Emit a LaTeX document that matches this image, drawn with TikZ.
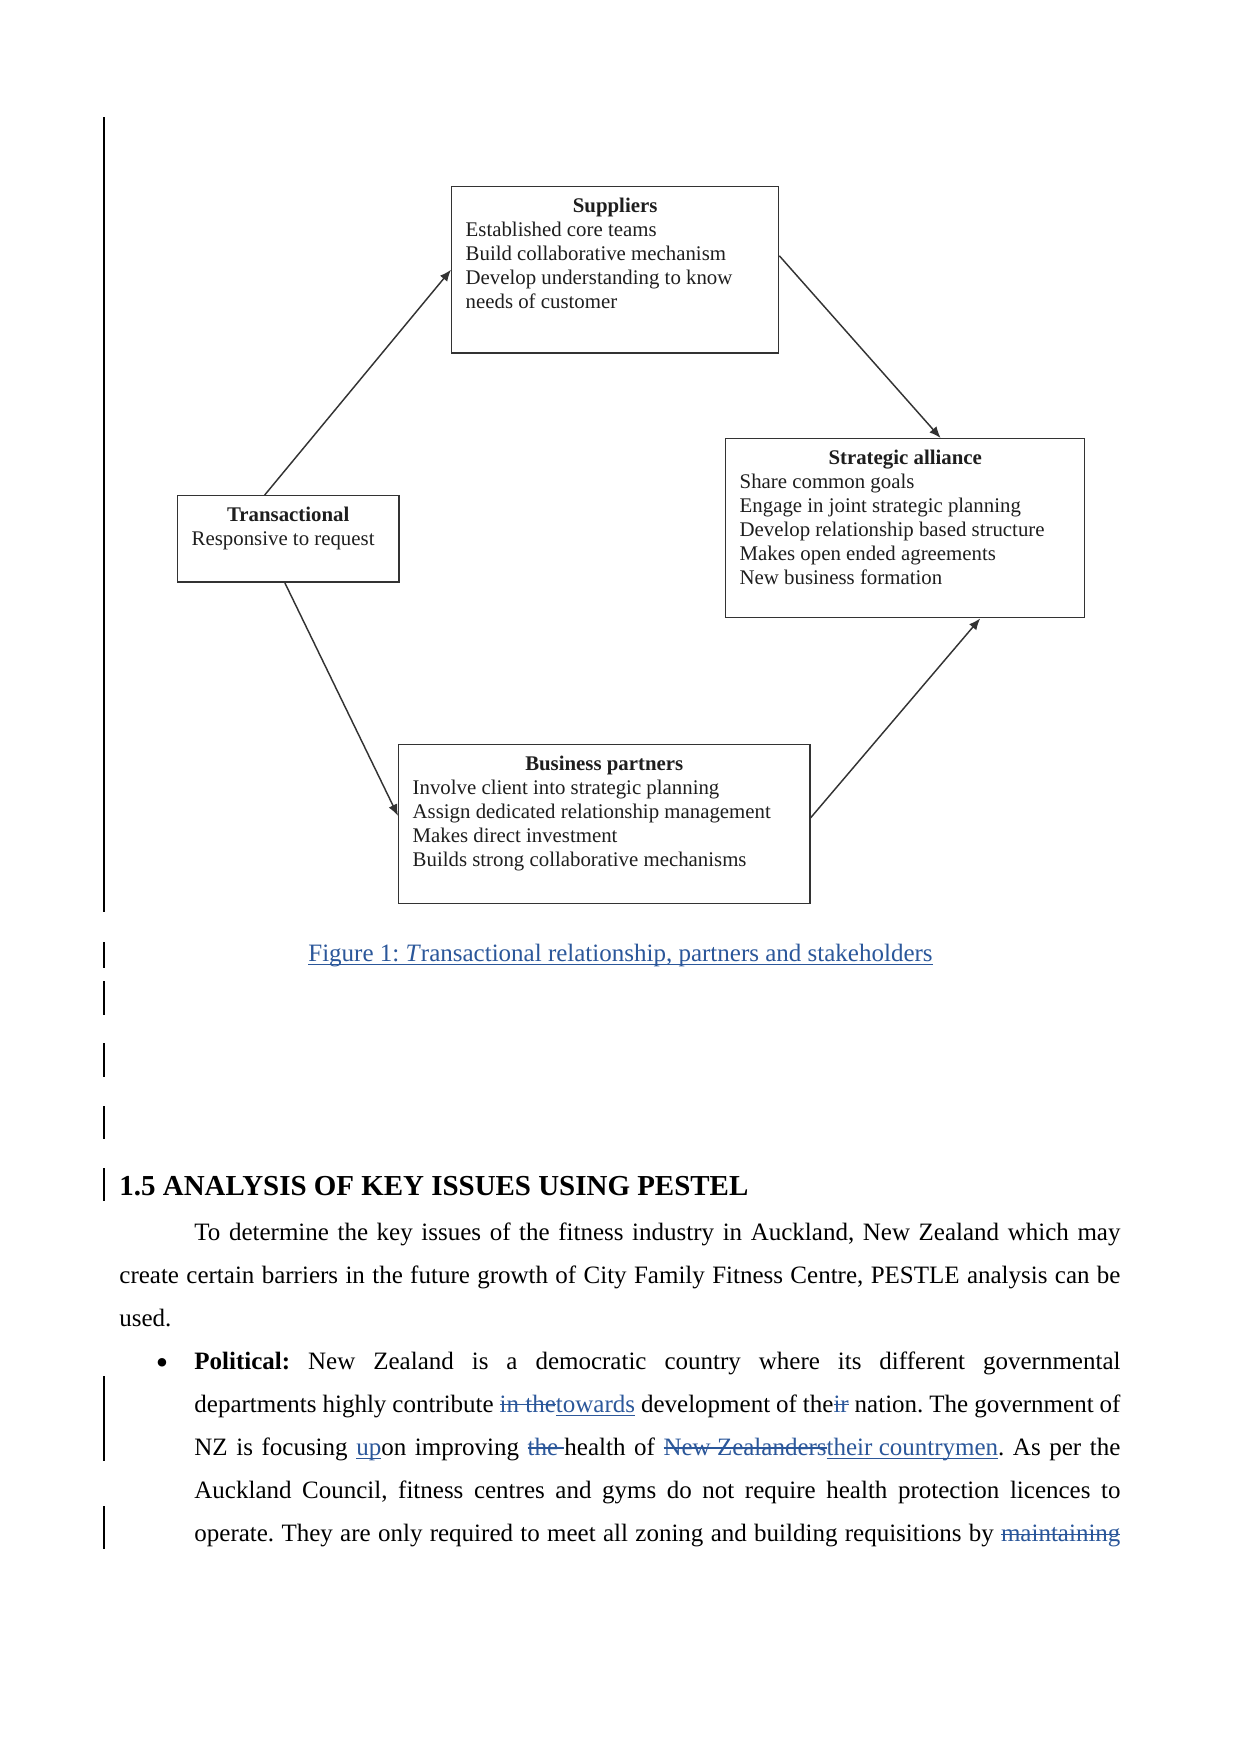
\documentclass[tikz,border=0pt]{standalone}
\usepackage{fontspec}
\setmainfont{Liberation Serif}
\usetikzlibrary{arrows.meta,calc,positioning}
\definecolor{BoxLine}{HTML}{333333}
\definecolor{BoxInk}{HTML}{1E1E1E}
\definecolor{TrackBlue}{HTML}{2B579A}
\newcommand{\deltext}[1]{{\color{TrackBlue}\setbox0\hbox{#1}\rlap{\rule[0.27em]{\wd0}{0.55pt}}\box0}}
\newcommand{\instext}[1]{{\color{TrackBlue}\setbox0\hbox{#1}\rlap{\rule[-0.16em]{\wd0}{0.55pt}}\box0}}
\frenchspacing

\begin{document}
\begin{tikzpicture}[x=0.48pt,y=-0.48pt,card/.style={draw=BoxLine,line width=0.7pt,inner xsep=6.7pt,inner ysep=4.2pt,anchor=north west,font=\fontsize{10}{11.5}\selectfont,text=BoxInk},flow/.style={-{Latex[length=5.5pt,width=4.5pt]},line width=0.7pt,draw=BoxLine},changebar/.style={line width=0.5pt,draw=black},body/.style={font=\fontsize{12}{20.7}\selectfont,inner sep=0pt,anchor=base west}]
\useasboundingbox[fill=white] (0,0) rectangle (1241,1754);

% relationship cycle
\node[card] (sup) at (451,186) {\parbox[t][71.3pt][t]{143.5pt}{\strut\hfill\textbf{Suppliers}\hfill\null\\Established core teams\\Build collaborative mechanism\\Develop understanding to know\\needs of customer}};
\node[card] (strat) at (725,438) {\parbox[t][77.5pt][t]{158.9pt}{\strut\hfill\textbf{Strategic alliance}\hfill\null\\Share common goals\\Engage in joint strategic planning\\Develop relationship based structure\\Makes open ended agreements\\New business formation}};
\node[card] (trans) at (177,495) {\parbox[t][32.9pt][t]{92.7pt}{\strut\hfill\textbf{Transactional}\hfill\null\\Responsive to request}};
\node[card] (bp) at (398,744) {\parbox[t][67.9pt][t]{183.9pt}{\strut\hfill\textbf{Business partners}\hfill\null\\Involve client into strategic planning\\Assign dedicated relationship management\\Makes direct investment\\Builds strong collaborative mechanisms}};

\draw[flow] ([xshift=-11.3pt]trans.north) -- (sup.west);
\draw[flow] ([yshift=6.7pt]sup.east) -- ([xshift=17pt]strat.north);
\draw[flow] ([xshift=-1.7pt]trans.south) -- ([yshift=4pt]bp.west);
\draw[flow] ([yshift=3pt]bp.east) -- ([xshift=36pt]strat.south);

\node[inner sep=0pt,anchor=base,font=\fontsize{12}{14}\selectfont,text=TrackBlue] (caption) at (620.5,961) {\instext{Figure 1: \textit{T}ransactional relationship, partners and stakeholders}};

% text below the figure
\node[inner sep=0pt,anchor=base west,font=\fontsize{13.9}{16}\selectfont\bfseries] (heading) at (119,1195) {1.5 ANALYSIS OF KEY ISSUES USING PESTEL};
\node[body] (intro) at (119,1240) {\parbox[t]{480.5pt}{\hspace*{36pt}\makebox[444.5pt][s]{To determine the key issues of the fitness industry in Auckland, New Zealand which may}\\\makebox[480.5pt][s]{create certain barriers in the future growth of City Family Fitness Centre, PESTLE analysis can be}\\used.}};
\node[body,anchor=base,font=\fontsize{17}{20}\selectfont] (dot) at (162,1374) {\textbullet};
\node[body] (political) at (194,1369) {\parbox[t]{444.5pt}{\makebox[444.5pt][s]{\textbf{Political:} New Zealand is a democratic country where its different governmental}\\\makebox[444.5pt][s]{departments highly contribute \deltext{in the}\instext{towards} development of the\deltext{ir} nation. The government of}\\\makebox[444.5pt][s]{NZ is focusing \instext{up}on improving \deltext{the }health of \deltext{New Zealanders}\instext{their countrymen}. As per the}\\\makebox[444.5pt][s]{Auckland Council, fitness centres and gyms do not require health protection licences to}\\\makebox[444.5pt][s]{operate. They are only required to meet all zoning and building requisitions by \deltext{maintaining}}}};

% change bars
\draw[changebar] (104,117) -- (104,912);
\draw[changebar] (104,942) -- (104,968);
\draw[changebar] (104,981) -- (104,1015);
\draw[changebar] (104,1043) -- (104,1077);
\draw[changebar] (104,1106) -- (104,1139);
\draw[changebar] (104,1168) -- (104,1201);
\draw[changebar] (104,1376) -- (104,1461);
\draw[changebar] (104,1506) -- (104,1549);

\end{tikzpicture}
\end{document}
